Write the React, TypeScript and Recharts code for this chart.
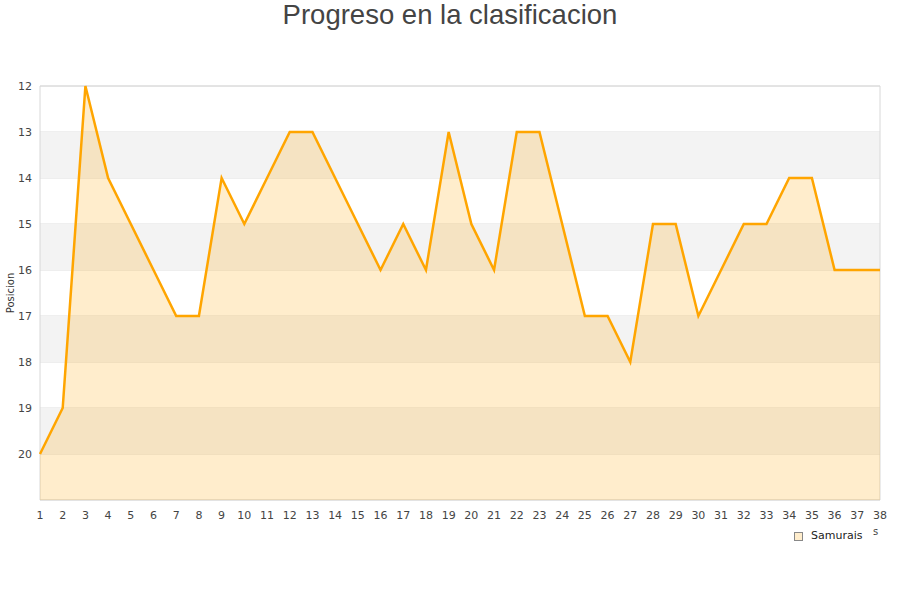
import {
  AreaChart,
  Area,
  XAxis,
  YAxis,
  CartesianGrid,
  ReferenceArea,
} from "recharts";

const jornadas = [
  1, 2, 3, 4, 5, 6, 7, 8, 9, 10, 11, 12, 13, 14, 15, 16, 17, 18, 19, 20, 21,
  22, 23, 24, 25, 26, 27, 28, 29, 30, 31, 32, 33, 34, 35, 36, 37, 38,
];
const posiciones = [
  20, 19, 12, 14, 15, 16, 17, 17, 14, 15, 14, 13, 13, 14, 15, 16, 15, 16, 13,
  15, 16, 13, 13, 15, 17, 17, 18, 15, 15, 17, 16, 15, 15, 14, 14, 16, 16, 16,
];
const yTicks = [12, 13, 14, 15, 16, 17, 18, 19, 20];
const bandas = [13, 15, 17, 19];

const data = jornadas.map((j, i) => ({ jornada: j, pos: posiciones[i] }));

const tickStyle = { fontSize: 11, fill: "#444", fontFamily: "DejaVu Sans" };

export default function App() {
  return (
    <div style={{ position: "absolute", left: 0, top: 0, width: 900, height: 600 }}>
      <div
        style={{
          position: "absolute",
          top: -2,
          width: 900,
          textAlign: "center",
          fontFamily: "Liberation Sans",
          fontSize: 27.5,
          color: "#444",
          lineHeight: "34px",
        }}
      >
        Progreso en la clasificacion
      </div>
      <div
        style={{
          position: "absolute",
          left: 11 - 40,
          top: 293 - 7,
          width: 80,
          textAlign: "center",
          transform: "rotate(-90deg)",
          fontFamily: "DejaVu Sans",
          fontSize: 10,
          color: "#333",
          lineHeight: "14px",
        }}
      >
        Posicion
      </div>
      <AreaChart
        width={900}
        height={600}
        data={data}
        margin={{ top: 86, right: 20, bottom: 70, left: 0 }}
      >
        {bandas.map((b) => (
          <ReferenceArea
            key={b}
            x1={1}
            x2={38}
            y1={b}
            y2={b + 1}
            fill="#f3f3f3"
            fillOpacity={1}
            stroke="none"
          />
        ))}
        <CartesianGrid vertical={false} stroke="#dedede" />
        <XAxis
          dataKey="jornada"
          type="number"
          domain={[1, 38]}
          ticks={jornadas}
          interval={0}
          tickLine={false}
          axisLine={false}
          tick={tickStyle}
          tickMargin={5}
          height={30}
        />
        <YAxis
          reversed
          type="number"
          domain={[12, 21]}
          ticks={yTicks}
          interval={0}
          tickLine={false}
          axisLine={false}
          tick={tickStyle}
          width={40}
        />
        <ReferenceArea
          x1={1}
          x2={38}
          y1={12}
          y2={21}
          fill="none"
          stroke="#d8d8d8"
        />
        <Area
          type="linear"
          dataKey="pos"
          baseValue={21}
          stroke="#ffa500"
          strokeWidth={2.5}
          fill="#ffa500"
          fillOpacity={0.2}
          dot={false}
          activeDot={false}
          isAnimationActive={false}
        />
      </AreaChart>
      <div
        style={{
          position: "absolute",
          left: 794,
          top: 532,
          width: 7,
          height: 7,
          background: "#ffedcc",
          border: "1px solid #888",
        }}
      />
      <div
        style={{
          position: "absolute",
          left: 811,
          top: 529,
          fontFamily: "DejaVu Sans",
          fontSize: 11,
          color: "#222",
          lineHeight: "14px",
        }}
      >
        Samurais
      </div>
      <div
        style={{
          position: "absolute",
          left: 873,
          top: 526,
          fontFamily: "DejaVu Sans",
          fontSize: 10,
          color: "#444",
          lineHeight: "12px",
        }}
      >
        s
      </div>
    </div>
  );
}
